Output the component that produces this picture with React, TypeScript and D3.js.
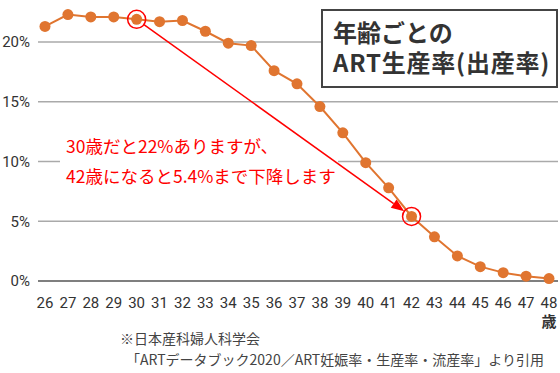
import { useEffect, useRef } from "react";
import * as d3 from "d3";

const ages = [26, 27, 28, 29, 30, 31, 32, 33, 34, 35, 36, 37, 38, 39, 40, 41, 42, 43, 44, 45, 46, 47, 48];
const rates = [21.3, 22.3, 22.1, 22.1, 21.9, 21.7, 21.8, 20.9, 19.9, 19.7, 17.6, 16.5, 14.6, 12.4, 9.9, 7.8, 5.4, 3.7, 2.1, 1.2, 0.7, 0.4, 0.2];
const yTicks = [0, 5, 10, 15, 20];
const highlightAges = [30, 42];
const titleLines = ["年齢ごとの", "ART生産率(出産率)"];
const noteLines = ["30歳だと22%ありますが、", "42歳になると5.4%まで下降します"];
const sourceLines = ["※日本産科婦人科学会", "「ARTデータブック2020／ART妊娠率・生産率・流産率」より引用"];
const unitLabel = "歳";

export default function App() {
  const svgRef = useRef<SVGSVGElement>(null);

  useEffect(() => {
    if (!svgRef.current) return;

    const width = 560;
    const height = 373;
    const orange = "#e07530";
    const red = "#ff0000";
    const numFont = "Roboto, 'Noto Sans', sans-serif";
    const jpFont = "'Noto Sans CJK JP', 'Noto Sans', sans-serif";

    const x = d3.scalePoint<number>().domain(ages).range([45, 549]);
    const y = d3.scaleLinear().domain([0, 20]).range([281, 42]);

    const svg = d3.select(svgRef.current);
    svg.selectAll("*").remove();
    svg.attr("width", width).attr("height", height);

    svg.append("rect").attr("width", width).attr("height", height).attr("fill", "#fff");

    // grid
    svg
      .append("g")
      .selectAll("line")
      .data(yTicks)
      .enter()
      .append("line")
      .attr("x1", 38)
      .attr("x2", 558)
      .attr("y1", (d) => y(d))
      .attr("y2", (d) => y(d))
      .attr("stroke", (d) => (d === 0 ? "#555" : "#aaa"))
      .attr("stroke-width", 1.5);

    svg
      .append("g")
      .selectAll("text")
      .data(yTicks)
      .enter()
      .append("text")
      .attr("x", 30)
      .attr("y", (d) => y(d))
      .attr("dy", "0.36em")
      .attr("text-anchor", "end")
      .attr("font-family", numFont)
      .attr("font-size", 15)
      .attr("fill", "#333")
      .text((d) => d + "%");

    svg
      .append("g")
      .selectAll("text")
      .data(ages)
      .enter()
      .append("text")
      .attr("x", (d) => x(d)!)
      .attr("y", 308)
      .attr("text-anchor", "middle")
      .attr("font-family", numFont)
      .attr("font-size", 15)
      .attr("fill", "#333")
      .text((d) => d);

    svg
      .append("text")
      .attr("x", x(ages[ages.length - 1])!)
      .attr("y", 327)
      .attr("text-anchor", "middle")
      .attr("font-family", jpFont)
      .attr("font-size", 15)
      .attr("font-weight", 700)
      .attr("fill", "#333")
      .text(unitLabel);

    // annotation backdrop hides the 10% line
    svg
      .append("rect")
      .attr("x", 60)
      .attr("y", 134)
      .attr("width", 278)
      .attr("height", 56)
      .attr("fill", "#fff");

    svg
      .append("g")
      .selectAll("text")
      .data(noteLines)
      .enter()
      .append("text")
      .attr("x", 66)
      .attr("y", (d, i) => 153 + i * 30)
      .attr("font-family", jpFont)
      .attr("font-size", 17.5)
      .attr("fill", red)
      .text((d) => d);

    // line + markers
    const pts = ages.map((a, i) => [x(a)!, y(rates[i])] as [number, number]);
    svg
      .append("path")
      .datum(pts)
      .attr("d", d3.line())
      .attr("fill", "none")
      .attr("stroke", orange)
      .attr("stroke-width", 2);

    svg
      .append("g")
      .selectAll("circle")
      .data(pts)
      .enter()
      .append("circle")
      .attr("cx", (d) => d[0])
      .attr("cy", (d) => d[1])
      .attr("r", 5.5)
      .attr("fill", orange);

    // highlight rings and arrow
    const hl = highlightAges.map((a) => pts[ages.indexOf(a)]);
    const ringR = 9;
    svg
      .append("g")
      .selectAll("circle")
      .data(hl)
      .enter()
      .append("circle")
      .attr("cx", (d) => d[0])
      .attr("cy", (d) => d[1])
      .attr("r", ringR)
      .attr("fill", "none")
      .attr("stroke", red)
      .attr("stroke-width", 1.5);

    const [p0, p1] = hl;
    const dx = p1[0] - p0[0];
    const dy = p1[1] - p0[1];
    const len = Math.hypot(dx, dy);
    const ux = dx / len;
    const uy = dy / len;
    const sx = p0[0] + ux * ringR;
    const sy = p0[1] + uy * ringR;
    const tx = p1[0] - ux * ringR;
    const ty = p1[1] - uy * ringR;
    const headL = 13;
    const headW = 5;
    const bx = tx - ux * headL;
    const by = ty - uy * headL;

    svg
      .append("line")
      .attr("x1", sx)
      .attr("y1", sy)
      .attr("x2", bx)
      .attr("y2", by)
      .attr("stroke", red)
      .attr("stroke-width", 1.5);

    svg
      .append("path")
      .attr(
        "d",
        `M${tx},${ty}L${bx - uy * headW},${by + ux * headW}L${bx + uy * headW},${by - ux * headW}Z`
      )
      .attr("fill", red);

    // title box
    svg
      .append("rect")
      .attr("x", 322)
      .attr("y", 10)
      .attr("width", 235)
      .attr("height", 77)
      .attr("fill", "#fff")
      .attr("stroke", "#444")
      .attr("stroke-width", 2);

    svg
      .append("g")
      .selectAll("text")
      .data(titleLines)
      .enter()
      .append("text")
      .attr("x", 333)
      .attr("y", (d, i) => 42 + i * 30)
      .attr("font-family", jpFont)
      .attr("font-size", 24)
      .attr("font-weight", 700)
      .attr("letter-spacing", (d, i) => (i === 1 ? 0.8 : 0))
      .attr("fill", "#333")
      .text((d) => d);

    // source
    svg
      .append("g")
      .selectAll("text")
      .data(sourceLines)
      .enter()
      .append("text")
      .attr("x", (d, i) => (i === 0 ? 120 : 126))
      .attr("y", (d, i) => 344 + i * 21)
      .attr("font-family", jpFont)
      .attr("font-size", 14)
      .attr("fill", "#444")
      .text((d) => d);
  }, []);

  return (
    <div style={{ position: "absolute", left: 0, top: 0 }}>
      <svg ref={svgRef} width={560} height={373} style={{ display: "block" }} />
    </div>
  );
}
